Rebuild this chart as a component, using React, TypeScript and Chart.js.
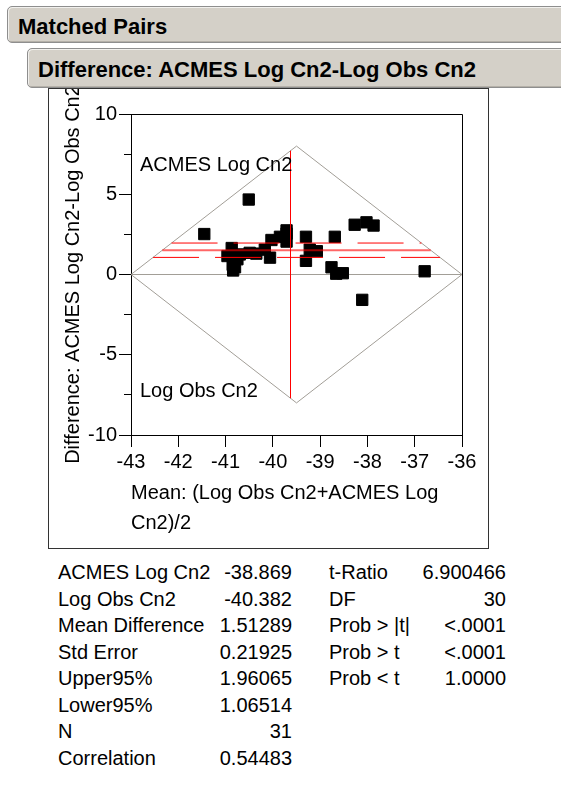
import React, { useEffect, useRef } from 'react';
import { Chart, registerables } from 'chart.js';

Chart.register(...registerables);

const FONT = '"Liberation Sans", Arial, Helvetica, sans-serif';

// Each matched pair: mean of the two log values (x) and ACMES minus observed (y)
const pairMeans = [
  -41.45, -40.51, -40.87, -40.96, -40.8, -40.84, -40.7, -40.49, -40.35, -40.17,
  -40.06, -40.03, -39.85, -39.71, -39.71, -39.71, -39.3, -38.69, -39.22, -39.07,
  -39.3, -38.27, -38.02, -37.87, -38.76, -38.66, -38.52, -36.79, -38.11, -40.85,
  -40.75,
];
const pairDifferences = [
  2.52, 4.67, 1.65, 1.15, 0.45, 0.25, 1.25, 1.35, 1.3, 1.55,
  1.05, 2.15, 2.35, 2.55, 2.05, 2.75, 2.35, 2.35, 1.55, 1.45,
  0.85, 3.1, 3.25, 3.05, 0.45, 0.05, 0.08, 0.2, -1.58, 0.6,
  0.95,
];

// Axis ranges and tick marks
const xRange = [-43, -36];
const yRange = [-10, 10];
const yMajorTicks = [-10, -5, 0, 5, 10];
const yMinorStep = 2.5;

// Summary statistics
const acmesMean = -38.869;
const obsMean = -40.382;
const meanDifference = 1.51289;
const stdError = 0.21925;
const upper95 = 1.96065;
const lower95 = 1.06514;
const pairCount = 31;
const correlation = 0.54483;
const tRatio = 6.900466;
const degreesOfFreedom = 30;

const summaryLabels = ['ACMES Log Cn2', 'Log Obs Cn2', 'Mean Difference', 'Std Error', 'Upper95%', 'Lower95%', 'N', 'Correlation'];
const summaryValues = [
  acmesMean.toFixed(3), obsMean.toFixed(3), meanDifference.toFixed(5), stdError.toFixed(5),
  upper95.toFixed(5), lower95.toFixed(5), String(pairCount), correlation.toFixed(5),
];
const testLabels = ['t-Ratio', 'DF', 'Prob > |t|', 'Prob > t', 'Prob < t'];
const testValues = [tRatio.toFixed(6), String(degreesOfFreedom), '<.0001', '<.0001', '1.0000'];

// Rotated frame of the two original variables
const diamondCorners = [
  { x: -43, y: 0 },
  { x: -39.5, y: 8 },
  { x: -36, y: 0 },
  { x: -39.5, y: -8 },
];
const cornerLabels = [
  { text: 'ACMES Log Cn2', y: 6.8 },
  { text: 'Log Obs Cn2', y: -7.28 },
];

const xTitle = ['Mean: (Log Obs Cn2+ACMES Log', 'Cn2)/2'];
const yTitle = 'Difference: ACMES Log Cn2-Log Obs Cn2';

const GRAY = '#a29e97';
const RED = '#ff0000';

const dLeft = diamondCorners[0].x;
const dRight = diamondCorners[2].x;
const apexX = diamondCorners[1].x;
const apexY = diamondCorners[1].y;

function diamondSpan(v: number) {
  const t = Math.abs(v) / apexY;
  return [dLeft + t * (apexX - dLeft), dRight - t * (dRight - apexX)];
}
function diamondHeight(xv: number) {
  return xv <= apexX ? (apexY * (xv - dLeft)) / (apexX - dLeft) : (apexY * (dRight - xv)) / (dRight - apexX);
}
const crisp = (v: number) => Math.floor(v) + 0.5;

const overlayPlugin = {
  id: 'pairsOverlay',
  beforeDatasetsDraw(chart: any) {
    const { ctx, chartArea: a, scales } = chart;
    const x = scales.x;
    const y = scales.y;
    ctx.save();
    ctx.strokeStyle = GRAY;
    ctx.lineWidth = 1;
    const y0 = crisp(y.getPixelForValue(0));
    ctx.beginPath();
    ctx.moveTo(a.left, y0);
    ctx.lineTo(a.right, y0);
    ctx.stroke();
    ctx.beginPath();
    diamondCorners.forEach((c, i) => {
      const px = x.getPixelForValue(c.x);
      const py = y.getPixelForValue(c.y);
      if (i === 0) ctx.moveTo(px, py);
      else ctx.lineTo(px, py);
    });
    ctx.closePath();
    ctx.stroke();
    ctx.restore();
  },
  afterDatasetsDraw(chart: any) {
    const { ctx, chartArea: a, scales } = chart;
    const x = scales.x;
    const y = scales.y;
    ctx.save();

    // confidence limits (dashed) and mean difference (solid)
    const hLine = (v: number, dash: number[], color: string, width: number) => {
      const [l, r] = diamondSpan(v);
      const py = y.getPixelForValue(v);
      ctx.beginPath();
      ctx.setLineDash(dash);
      ctx.strokeStyle = color;
      ctx.lineWidth = width;
      ctx.moveTo(x.getPixelForValue(l), py);
      ctx.lineTo(x.getPixelForValue(r), py);
      ctx.stroke();
    };
    hLine(upper95, [46, 16], RED, 1);
    hLine(lower95, [46, 16], RED, 1);
    hLine(meanDifference, [], 'rgba(255,0,0,0.6)', 2);

    // grand mean of both variables
    ctx.setLineDash([]);
    const grandMean = (acmesMean + obsMean) / 2;
    const h = diamondHeight(grandMean);
    const vx = crisp(x.getPixelForValue(grandMean));
    ctx.strokeStyle = RED;
    ctx.lineWidth = 1;
    ctx.beginPath();
    ctx.moveTo(vx, y.getPixelForValue(h));
    ctx.lineTo(vx, y.getPixelForValue(-h));
    ctx.stroke();

    // frame top and right
    ctx.strokeStyle = '#000';
    ctx.beginPath();
    ctx.moveTo(a.left, crisp(a.top));
    ctx.lineTo(crisp(a.right), crisp(a.top));
    ctx.lineTo(crisp(a.right), a.bottom);
    ctx.stroke();

    // y tick marks, long for labelled values
    y.ticks.forEach((t: any) => {
      const len = yMajorTicks.includes(t.value) ? 12 : 7;
      const py = crisp(y.getPixelForValue(t.value));
      ctx.beginPath();
      ctx.moveTo(a.left - len, py);
      ctx.lineTo(a.left, py);
      ctx.stroke();
    });

    // variable names in the corners of the frame
    ctx.fillStyle = '#000';
    ctx.font = `20px ${FONT}`;
    ctx.textAlign = 'left';
    ctx.textBaseline = 'middle';
    cornerLabels.forEach((lab) => {
      ctx.fillText(lab.text, a.left + 9, y.getPixelForValue(lab.y));
    });
    ctx.restore();
  },
};

export default function App() {
  const canvasRef = useRef<HTMLCanvasElement>(null);

  useEffect(() => {
    const canvas = canvasRef.current;
    if (!canvas) return;
    const chart = new Chart(canvas, {
      type: 'scatter',
      data: {
        datasets: [
          {
            data: pairMeans.map((m, i) => ({ x: m, y: pairDifferences[i] })),
            pointStyle: 'rect',
            pointRadius: 8,
            pointHoverRadius: 8,
            backgroundColor: '#000',
            borderColor: '#000',
            borderWidth: 1,
          },
        ],
      },
      options: {
        animation: false,
        responsive: false,
        devicePixelRatio: 1,
        layout: { padding: { top: 16, right: 26, bottom: 0, left: 0 } },
        plugins: { legend: { display: false }, tooltip: { enabled: false } },
        events: [],
        scales: {
          x: {
            type: 'linear',
            min: xRange[0],
            max: xRange[1],
            ticks: {
              stepSize: 1,
              autoSkip: false,
              maxRotation: 0,
              padding: 3,
              color: '#000',
              font: { family: FONT, size: 20 },
            },
            grid: { drawOnChartArea: false, drawTicks: true, tickLength: 12, color: '#000', tickColor: '#000' },
            border: { display: true, color: '#000', width: 1 },
            title: {
              display: true,
              text: xTitle,
              align: 'start',
              color: '#000',
              font: { family: FONT, size: 20, lineHeight: 1.5 },
              padding: { top: 0, bottom: 10 },
            },
            afterFit: (s: any) => {
              s.height = 113;
            },
          },
          y: {
            type: 'linear',
            min: yRange[0],
            max: yRange[1],
            ticks: {
              stepSize: yMinorStep,
              autoSkip: false,
              padding: 14,
              color: '#000',
              font: { family: FONT, size: 20 },
              callback: (v: any) => (yMajorTicks.includes(Number(v)) ? String(v) : ''),
            },
            grid: { drawOnChartArea: false, drawTicks: false },
            border: { display: true, color: '#000', width: 1 },
            title: {
              display: true,
              text: yTitle,
              color: '#000',
              font: { family: FONT, size: 20, lineHeight: 1.2 },
              padding: { top: 13, bottom: 0 },
            },
            afterFit: (s: any) => {
              s.width = 83;
            },
          },
        },
      } as any,
      plugins: [overlayPlugin],
    });
    return () => chart.destroy();
  }, []);

  const headerBox: React.CSSProperties = {
    position: 'absolute',
    boxSizing: 'border-box',
    background: '#d4d0c8',
    border: '1px solid #8e8e8e',
    borderRadius: 5,
    boxShadow: 'inset 1px 1px 0 #f2f1ee, inset -1px -1px 0 #b4b0a8',
  };
  const headerText: React.CSSProperties = {
    position: 'absolute',
    fontSize: 22,
    lineHeight: '22px',
    fontWeight: 'bold',
    whiteSpace: 'nowrap',
  };
  const cell: React.CSSProperties = {
    position: 'absolute',
    fontSize: 20,
    lineHeight: '26.5px',
    height: 26.5,
    whiteSpace: 'nowrap',
  };
  const tableTop = 559;
  const rowStep = 26.5;

  return (
    <div
      style={{
        position: 'absolute',
        left: 0,
        top: 0,
        width: 561,
        height: 786,
        overflow: 'hidden',
        background: '#fff',
        color: '#000',
        fontFamily: FONT,
      }}
    >
      <div style={{ ...headerBox, left: 7, top: 6, width: 620, height: 37 }} />
      <div style={{ ...headerText, left: 18, top: 16 }}>Matched Pairs</div>
      <div style={{ ...headerBox, left: 27, top: 48, width: 600, height: 40 }} />
      <div style={{ ...headerText, left: 38, top: 59 }}>Difference: ACMES Log Cn2-Log Obs Cn2</div>

      <canvas
        ref={canvasRef}
        width={440}
        height={460}
        style={{ position: 'absolute', left: 48, top: 88, width: 440, height: 460 }}
      />
      <div
        style={{
          position: 'absolute',
          left: 48,
          top: 88,
          width: 441,
          height: 461,
          boxSizing: 'border-box',
          border: '1px solid #333',
        }}
      />

      {summaryLabels.map((lab, i) => (
        <React.Fragment key={lab}>
          <div style={{ ...cell, left: 58, top: tableTop + i * rowStep }}>{lab}</div>
          <div style={{ ...cell, left: 192, width: 100, textAlign: 'right', top: tableTop + i * rowStep }}>
            {summaryValues[i]}
          </div>
        </React.Fragment>
      ))}
      {testLabels.map((lab, i) => (
        <React.Fragment key={lab}>
          <div style={{ ...cell, left: 329, top: tableTop + i * rowStep }}>{lab}</div>
          <div style={{ ...cell, left: 406, width: 100, textAlign: 'right', top: tableTop + i * rowStep }}>
            {testValues[i]}
          </div>
        </React.Fragment>
      ))}
    </div>
  );
}
